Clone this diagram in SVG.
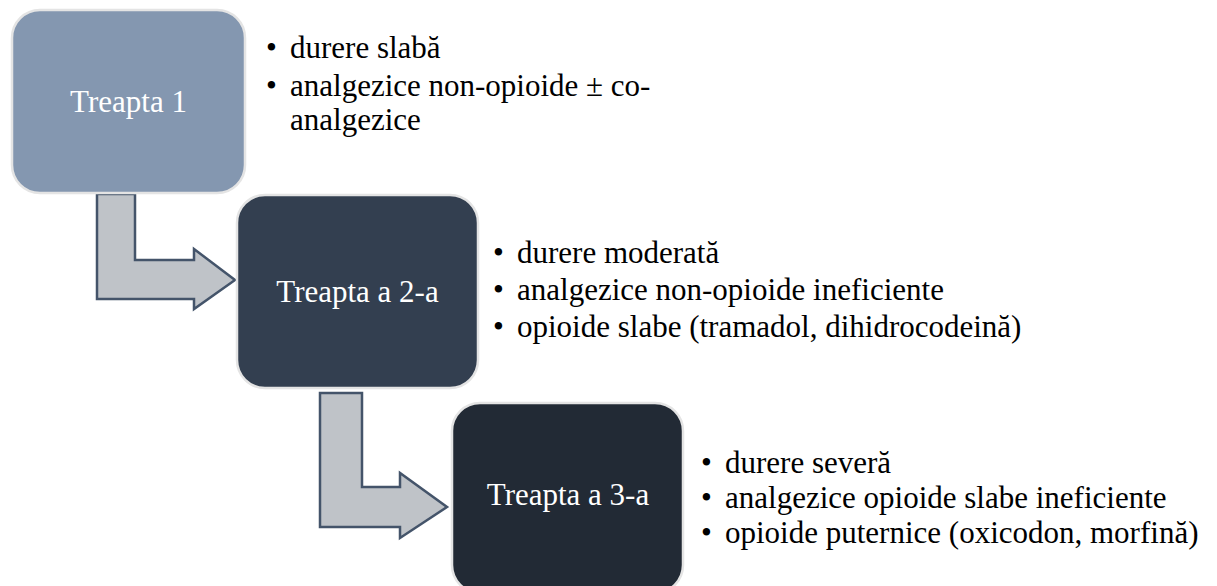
<svg xmlns="http://www.w3.org/2000/svg" width="1217" height="586" viewBox="0 0 1217 586">
<style>
.box{stroke:#E4E4E4;stroke-width:2.5}
.lbl{font-family:'Liberation Serif','Noto Serif','DejaVu Serif',serif;font-size:31px;fill:#FFFFFF;text-anchor:middle}
.txt{font-family:'Liberation Serif','Noto Serif','DejaVu Serif',serif;font-size:31px;fill:#000000}
.arr{fill:#BFC3C8;stroke:#44546A;stroke-width:2.5;stroke-linejoin:miter}
</style>
<rect width="1217" height="586" fill="#FFFFFF"/>
<g id="connectors">
<path class="arr" d="M97,194 L97,299 L194,299 L194,309 L235,280 L194,249 L194,260 L135,260 L135,194 Z"/>
<path class="arr" d="M320,393 L320,527 L400,527 L400,538 L447,507 L400,473 L400,487 L362,487 L362,393 Z"/>
</g>
<g id="node1">
<rect class="box" x="12" y="10" width="233" height="183" rx="28" fill="#8497B0"/>
<text class="lbl" x="128.5" y="112">Treapta 1</text>
</g>
<g id="node2">
<rect class="box" x="237" y="195" width="241" height="193" rx="28" fill="#333F50"/>
<text class="lbl" x="357.5" y="302">Treapta a 2-a</text>
</g>
<g id="node3">
<rect class="box" x="452" y="403" width="231" height="190" rx="28" fill="#222A35"/>
<text class="lbl" x="568" y="505">Treapta a 3-a</text>
</g>
<g id="text1">
<text class="txt" x="266" y="58">•</text><text class="txt" x="290" y="58">durere slabă</text>
<text class="txt" x="266" y="96">•</text><text class="txt" x="290" y="96">analgezice non-opioide ± co-</text>
<text class="txt" x="290" y="130">analgezice</text>
</g>
<g id="text2">
<text class="txt" x="493" y="263">•</text><text class="txt" x="517" y="263">durere moderată</text>
<text class="txt" x="493" y="300">•</text><text class="txt" x="517" y="300">analgezice non-opioide ineficiente</text>
<text class="txt" x="493" y="337">•</text><text class="txt" x="517" y="337">opioide slabe (tramadol, dihidrocodeină)</text>
</g>
<g id="text3">
<text class="txt" x="701" y="473">•</text><text class="txt" x="725" y="473">durere severă</text>
<text class="txt" x="701" y="508">•</text><text class="txt" x="725" y="508">analgezice opioide slabe ineficiente</text>
<text class="txt" x="701" y="543">•</text><text class="txt" x="725" y="543">opioide puternice (oxicodon, morfină)</text>
</g>
</svg>
